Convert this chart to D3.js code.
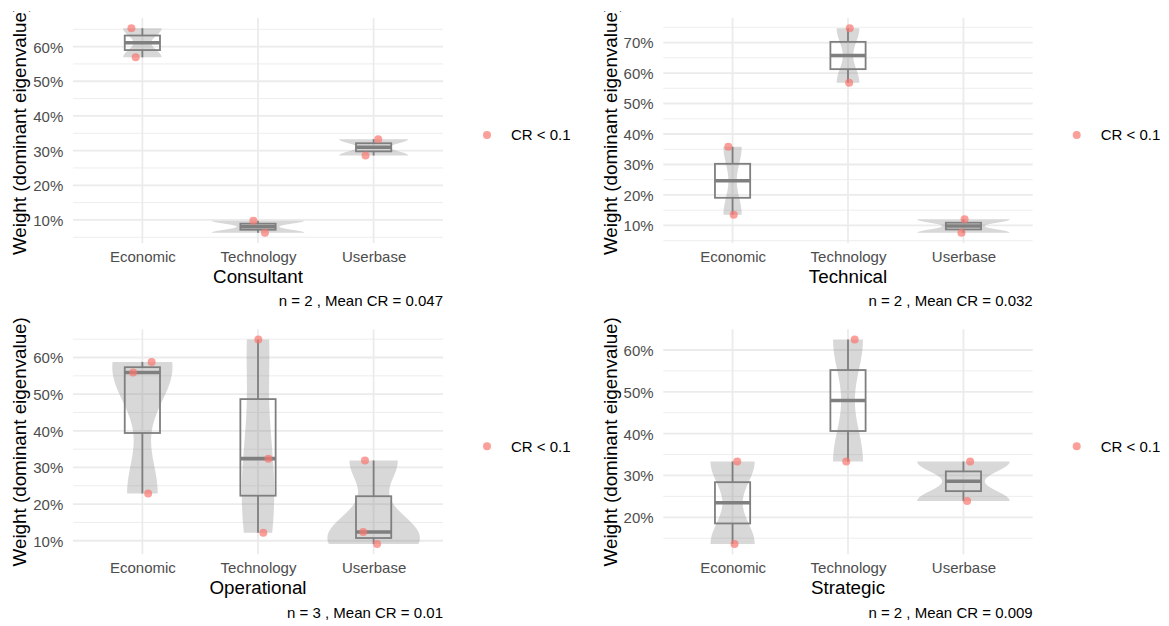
<!DOCTYPE html>
<html><head><meta charset="utf-8">
<script src="https://cdn.jsdelivr.net/npm/d3@7"></script>
<style>
html,body{margin:0;padding:0;background:#fff;}
svg{display:block;font-family:"Liberation Sans",Arial,Helvetica,sans-serif;}
</style>
</head><body>
<svg id="chart" width="1169" height="626"></svg>
<script>
// ---------------- data ----------------
const categories = ["Economic", "Technology", "Userbase"];
const groupNames = ["Consultant", "Technical", "Operational", "Strategic"];
const captions = [
  "n = 2 , Mean CR = 0.047",
  "n = 2 , Mean CR = 0.032",
  "n = 3 , Mean CR = 0.01",
  "n = 2 , Mean CR = 0.009"
];
const legendLabel = "CR < 0.1";
const yAxisTitle = "Weight (dominant eigenvalue)";

// weights per category (Economic, Technology, Userbase)
const consultantWeights  = [[0.653, 0.569], [0.098, 0.063], [0.333, 0.286]];
const technicalWeights   = [[0.358, 0.135], [0.747, 0.568], [0.120, 0.076]];
const operationalWeights = [[0.559, 0.588, 0.229], [0.649, 0.324, 0.122], [0.319, 0.124, 0.091]];
const strategicWeights   = [[0.3333, 0.136], [0.625, 0.3333], [0.3333, 0.239]];

// horizontal jitter of the points, in category-step units
const consultantJitter  = [[-0.095, -0.058], [-0.04, 0.06], [0.04, -0.07]];
const technicalJitter   = [[-0.037, 0.01], [0.015, 0.01], [0.01, -0.017]];
const operationalJitter = [[-0.08, 0.08, 0.05], [0.003, 0.09, 0.046], [-0.075, -0.09, 0.03]];
const strategicJitter   = [[0.04, 0.017], [0.058, -0.015], [0.058, 0.032]];

const panelWeights = [consultantWeights, technicalWeights, operationalWeights, strategicWeights];
const panelJitter = [consultantJitter, technicalJitter, operationalJitter, strategicJitter];

// ---------------- layout ----------------
const colLeft = [73, 663.3], colRight = [443, 1032.7];
const rowTop = [18, 329.3], rowBottom = [243, 554.3];
const GRID = "#EBEBEB", AXIS_TXT = "#4D4D4D", BOX = "#7F7F7F";
const PT_COLOR = "#F8766D";

const svg = d3.select("#chart");
const defs = svg.append("defs");
defs.append("clipPath").attr("id", "topclip")
  .append("rect").attr("x", 0).attr("y", 11.3).attr("width", 1169).attr("height", 700);

function bwNrd0(x) {
  const s = d3.deviation(x);
  const sorted = x.slice().sort(d3.ascending);
  const iqr = d3.quantileSorted(sorted, 0.75) - d3.quantileSorted(sorted, 0.25);
  let lo = Math.min(s, iqr / 1.34);
  if (!(lo > 0)) lo = s || Math.abs(sorted[0]) || 1;
  return 0.9 * lo * Math.pow(x.length, -0.2);
}
function kde(x, bw, n) {
  const lo = d3.min(x), hi = d3.max(x);
  return d3.range(n).map(i => {
    const y = lo + (hi - lo) * i / (n - 1);
    const d = d3.mean(x, v => Math.exp(-0.5 * ((y - v) / bw) ** 2) / (bw * Math.sqrt(2 * Math.PI)));
    return [y, d];
  });
}
function boxStats(x) {
  const s = x.slice().sort(d3.ascending);
  const q1 = d3.quantileSorted(s, 0.25), q2 = d3.quantileSorted(s, 0.5), q3 = d3.quantileSorted(s, 0.75);
  const iqr = q3 - q1;
  const lo = d3.min(s.filter(v => v >= q1 - 1.5 * iqr));
  const hi = d3.max(s.filter(v => v <= q3 + 1.5 * iqr));
  return {q1, q2, q3, lo, hi};
}

groupNames.forEach((name, p) => {
  const col = p % 2, row = Math.floor(p / 2);
  const L = colLeft[col], R = colRight[col], T = rowTop[row], B = rowBottom[row];
  const weights = panelWeights[p], jit = panelJitter[p];
  const g = svg.append("g");

  const all = weights.flat();
  const mn = d3.min(all), mx = d3.max(all), pad = (mx - mn) * 0.05;
  const y = d3.scaleLinear().domain([mn - pad, mx + pad]).range([B, T]);
  const x = d3.scalePoint().domain(categories).range([L, R]).padding(0.6);
  const step = x.step();

  // grid
  const major = y.ticks(6);
  const tstep = major[1] - major[0];
  const minor = [];
  [major[0] - tstep / 2].concat(major.map(v => v + tstep / 2)).forEach(v => {
    const [d0, d1] = y.domain();
    if (v > d0 && v < d1) minor.push(v);
  });
  g.selectAll(".minor").data(minor).join("line")
    .attr("x1", L).attr("x2", R).attr("y1", d => y(d)).attr("y2", d => y(d))
    .attr("stroke", GRID).attr("stroke-width", 0.9);
  g.selectAll(".major").data(major).join("line")
    .attr("x1", L).attr("x2", R).attr("y1", d => y(d)).attr("y2", d => y(d))
    .attr("stroke", GRID).attr("stroke-width", 1.8);
  g.selectAll(".vmajor").data(categories).join("line")
    .attr("x1", d => x(d)).attr("x2", d => x(d)).attr("y1", T).attr("y2", B)
    .attr("stroke", GRID).attr("stroke-width", 1.8);

  // axes (text only)
  const yAxis = d3.axisLeft(y).tickValues(major).tickFormat(d3.format(".0%")).tickSize(0).tickPadding(9.7);
  const ya = g.append("g").attr("transform", `translate(${L},0)`).call(yAxis);
  ya.select(".domain").remove();
  ya.selectAll("text").attr("fill", AXIS_TXT).attr("font-size", 15).attr("font-family", null).attr("dy", "0.36em");

  const xAxis = d3.axisBottom(x).tickSize(0).tickPadding(8.5);
  const xa = g.append("g").attr("transform", `translate(0,${B})`).call(xAxis);
  xa.select(".domain").remove();
  xa.selectAll("text").attr("fill", AXIS_TXT).attr("font-size", 15).attr("font-family", null);

  // densities
  const dens = weights.map(w => kde(w, bwNrd0(w), 512));
  const maxD = d3.max(dens.flat(), d => d[1]);
  const half = step * 0.8 / 2;

  dens.forEach((dd, i) => {
    const cx = x(categories[i]);
    const area = d3.area()
      .y(d => y(d[0]))
      .x0(d => cx - half * d[1] / maxD)
      .x1(d => cx + half * d[1] / maxD);
    g.append("path").attr("d", area(dd)).attr("fill", "#7F7F7F").attr("fill-opacity", 0.3);
  });

  // boxplots
  const bw2 = step * 0.305 / 2;
  weights.forEach((w, i) => {
    const s = boxStats(w), cx = x(categories[i]);
    const bg = g.append("g").attr("stroke", BOX).attr("fill", "none");
    bg.append("line").attr("x1", cx).attr("x2", cx).attr("y1", y(s.q3)).attr("y2", y(s.hi)).attr("stroke-width", 1.8);
    bg.append("line").attr("x1", cx).attr("x2", cx).attr("y1", y(s.q1)).attr("y2", y(s.lo)).attr("stroke-width", 1.8);
    bg.append("rect").attr("x", cx - bw2).attr("width", bw2 * 2)
      .attr("y", y(s.q3)).attr("height", y(s.q1) - y(s.q3)).attr("stroke-width", 1.8);
    bg.append("line").attr("x1", cx - bw2).attr("x2", cx + bw2).attr("y1", y(s.q2)).attr("y2", y(s.q2)).attr("stroke-width", 3.6);
  });

  // points
  weights.forEach((w, i) => {
    const cx = x(categories[i]);
    g.selectAll(null).data(w.map((v, k) => ({v, j: jit[i][k]}))).join("circle")
      .attr("cx", d => cx + d.j * step).attr("cy", d => y(d.v)).attr("r", 4)
      .attr("fill", PT_COLOR).attr("fill-opacity", 0.7);
  });

  // titles
  g.append("text").attr("x", (L + R) / 2).attr("y", B + 40).attr("text-anchor", "middle")
    .attr("font-size", 18.8).attr("fill", "#000").text(name);
  const yt = g.append("text")
    .attr("transform", `translate(${L - 46.8},${(T + B) / 2}) rotate(-90)`)
    .attr("text-anchor", "middle").attr("font-size", 18.8).attr("fill", "#000").text(yAxisTitle);
  if (row === 0) yt.attr("clip-path", null);
  g.append("text").attr("x", R).attr("y", B + 63.3).attr("text-anchor", "end")
    .attr("font-size", 15).attr("fill", "#000").text(captions[p]);

  // legend
  const ly = T + 117;
  g.append("circle").attr("cx", R + 44).attr("cy", ly).attr("r", 4).attr("fill", PT_COLOR).attr("fill-opacity", 0.7);
  g.append("text").attr("x", R + 68).attr("y", ly + 5.3).attr("font-size", 15).attr("fill", "#000").text(legendLabel);
});

// the top row's y titles are cut by the upper edge of the figure
svg.append("rect").attr("x", 0).attr("y", 0).attr("width", 1169).attr("height", 11.3).attr("fill", "#fff");
</script>
</body></html>
